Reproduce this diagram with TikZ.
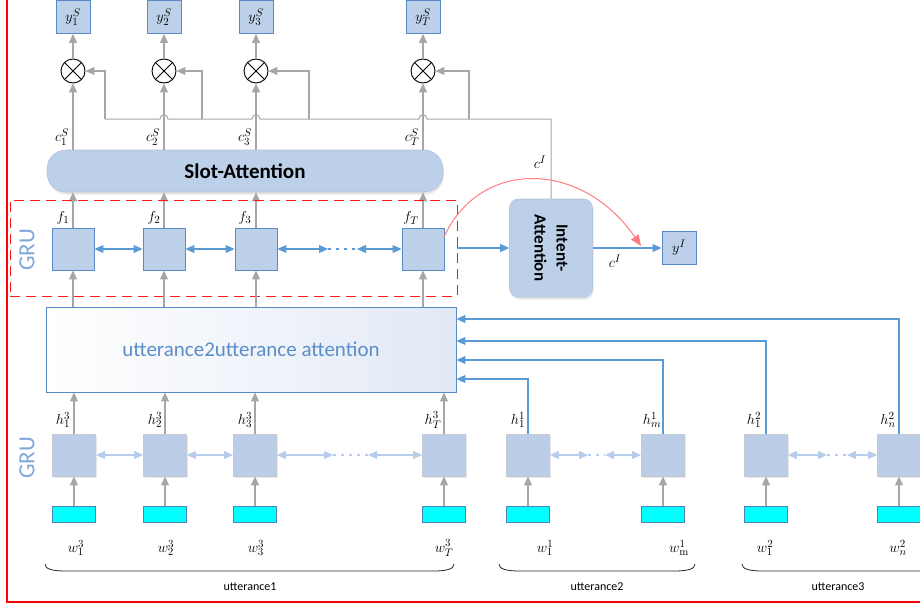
\documentclass[tikz,border=0pt]{standalone}
\usepackage{fontspec}
\setsansfont{Carlito}
\usetikzlibrary{arrows.meta,shadows,calc}

\definecolor{cellfill}{HTML}{BDD0E9}
\definecolor{cellline}{HTML}{5A8AC6}
\definecolor{lowfill}{HTML}{BCCEE7}
\definecolor{lowline}{HTML}{C3CAD4}
\definecolor{linkblue}{HTML}{5B9BD5}
\definecolor{paleblue}{HTML}{B7CDEB}
\definecolor{graylink}{HTML}{A6A6A6}
\definecolor{grutext}{HTML}{7EA6D6}
\definecolor{uutext}{HTML}{5B8DC8}
\definecolor{arcred}{HTML}{FF7C80}
\definecolor{embfill}{HTML}{00FFFF}
\definecolor{embline}{HTML}{4F81BD}
\definecolor{uushade}{HTML}{E2E9F5}

\tikzset{
  mlab/.style={font=\fontsize{15.5}{17}\selectfont, inner sep=0pt},
  outbox/.style={draw=cellline, line width=0.9pt, fill=cellfill, minimum width=34, minimum height=33, inner sep=0pt, font=\fontsize{15.5}{17}\selectfont},
  mult/.style={circle, draw=black, line width=0.9pt, minimum size=24, inner sep=0pt},
  cell/.style={draw=cellline, line width=0.9pt, fill=cellfill, minimum width=42, minimum height=42, inner sep=0pt},
  lcell/.style={draw=lowline, line width=0.8pt, fill=lowfill, minimum width=43, minimum height=42, inner sep=0pt,
    drop shadow={opacity=0.18, shadow xshift=1.5pt, shadow yshift=-2pt}},
  emb/.style={draw=embline, line width=0.9pt, fill=embfill, minimum width=43, minimum height=16, inner sep=0pt},
  slotbox/.style={fill=cellfill, draw=cellfill!85!gray, line width=0.6pt, rounded corners=19, minimum width=396, minimum height=42,
    font=\sffamily\bfseries\fontsize{21}{24}\selectfont, text=black,
    drop shadow={opacity=0.2, shadow xshift=1pt, shadow yshift=-2.5pt}},
  intentbox/.style={fill=cellfill, draw=cellfill!85!gray, line width=0.6pt, rounded corners=9, minimum width=83, minimum height=98,
    drop shadow={opacity=0.2, shadow xshift=1pt, shadow yshift=-2.5pt}},
  intenttext/.style={font=\sffamily\bfseries\fontsize{17}{22}\selectfont, align=center, inner sep=0pt},
  uubox/.style={draw=cellline, line width=0.9pt, left color=white, right color=uushade, minimum width=410, minimum height=85,
    font=\sffamily\fontsize{21}{24}\selectfont, text=uutext},
  dashbox/.style={draw=red!90, line width=0.9pt, dash pattern=on 10pt off 6pt, minimum width=447, minimum height=96, inner sep=0pt},
  grulab/.style={font=\sffamily\fontsize{23}{25}\selectfont, text=grutext},
  utlab/.style={font=\sffamily\fontsize{12}{14}\selectfont},
  garrow/.style={draw=graylink, line width=1.1pt, -{Triangle[length=9pt,width=8pt]}},
  gline/.style={draw=graylink, line width=1pt},
  barrow/.style={draw=linkblue, line width=1.1pt, -{Triangle[length=9pt,width=8pt]}},
  bidir/.style={draw=linkblue, line width=1.1pt, {Triangle[length=9pt,width=8pt]}-{Triangle[length=9pt,width=8pt]}},
  bdots/.style={draw=linkblue, line width=1.4pt, dash pattern=on 3pt off 5pt},
  pbidir/.style={draw=paleblue, line width=1.1pt, {Triangle[length=9pt,width=8pt]}-{Triangle[length=9pt,width=8pt]}},
  pdots/.style={draw=paleblue, line width=1.4pt, dash pattern=on 3pt off 5pt},
  brace/.style={draw=black!85, line width=0.8pt},
}

\begin{document}
\begin{tikzpicture}[x=1pt,y=-1pt]
\useasboundingbox (0,0) rectangle (920,605);

% outer frame
\draw[red, line width=2pt] (7,0) -- (7,602) -- (920,602);

% slot outputs, gating products and the upper GRU cells
\foreach \n/\x in {1/73,2/164,3/256,T/423}{
  \node[outbox] (y\n) at (\x,17) {$y_{\n}^{S}$};
  \node[mult] (m\n) at (\x,71) {};
  \draw[black, line width=0.9pt] (m\n.45) -- (m\n.225) (m\n.135) -- (m\n.315);
  \draw[garrow] (m\n) -- (y\n);
  \node[cell] (f\n) at (\x,249) {};
}

\node[slotbox] (slot) at (245,171) {Slot-Attention};

\foreach \n in {1,2,3,T}{
  \draw[garrow] (slot.north -| m\n) -- (m\n);
  \draw[garrow] (f\n) -- (f\n |- slot.south);
}

% context labels
\node[mlab] (cs1) at (62,137) {$c_1^S$};
\node[mlab] (cs2) at (153,137) {$c_2^S$};
\node[mlab] (cs3) at (245,137) {$c_3^S$};
\node[mlab] (csT) at (412,137) {$c_T^S$};
\node[mlab] (fl1) at (63,218) {$f_1$};
\node[mlab] (fl2) at (154,218) {$f_2$};
\node[mlab] (fl3) at (245,218) {$f_3$};
\node[mlab] (flT) at (411,218) {$f_T$};

% bidirectional links of the upper GRU
\coordinate (ud1) at (328,249);
\coordinate (ud2) at (357,249);
\draw[bidir] (f1) -- (f2);
\draw[bidir] (f2) -- (f3);
\draw[bidir] (f3) -- (ud1);
\draw[bdots] (ud1) -- (ud2);
\draw[bidir] (ud2) -- (fT);

% dashed GRU frame
\node[dashbox] (grubox) at (233.5,248) {};
\node[grulab, rotate=90] (gru1) at (27,250) {GRU};

% intent attention
\node[intentbox] (intent) at (551,248) {};
\node[intenttext, rotate=-90] (intentlab) at (intent) {Intent-\\Attention};
\node[outbox] (yI) at (679,248) {$y^I$};
\draw[barrow] (grubox.east) -- (intent);
\draw[barrow] (intent) -- (yI);
\node[mlab] (cI2) at (615,261) {$c^I$};
\node[mlab] (cI1) at (540,162) {$c^I$};

% intent context fed back to every product (with hops over the c lines)
\coordinate (busR) at (551,119);
\draw[gline] (intent.north) -- (busR) -- (427,119)
  .. controls (427,113.5) and (419,113.5) .. (419,119) -- (260,119)
  .. controls (260,113.5) and (252,113.5) .. (252,119) -- (168,119)
  .. controls (168,113.5) and (160,113.5) .. (160,119) -- (105,119);
\foreach \x/\n in {105/1,202/2,309/3,469/T}{
  \draw[garrow] (\x,119) |- (m\n);
}

% red curved link
\coordinate (arcS) at (444,237);
\coordinate (arcE) at (641,246);
\draw[draw=arcred, line width=1pt, -{Triangle[length=11pt,width=9pt]}] (arcS) .. controls (480,158) and (582,160) .. (arcE);

% utterance-to-utterance attention
\node[uubox] (uu) at (251,349.5) {utterance2utterance attention};
\foreach \n in {1,2,3,T}{
  \draw[garrow] (uu.north -| f\n) -- (f\n);
}

% lower GRU: utterance 1
\foreach \n/\x in {1/74,2/165,3/255,T/444}{
  \node[lcell] (a\n) at (\x,455) {};
  \node[emb] (ea\n) at (\x,514) {};
  \draw[garrow] (ea\n) -- (a\n);
  \draw[garrow] (a\n) -- (a\n |- uu.south);
}
% utterance 2 and 3
\foreach \n/\x in {b1/528,bm/663,c1/766,cn/899}{
  \node[lcell] (\n) at (\x,455) {};
  \node[emb] (e\n) at (\x,514) {};
  \draw[garrow] (e\n) -- (\n);
}

\node[grulab, rotate=90] (gru2) at (27,458) {GRU};

% lower bidirectional links
\coordinate (la1) at (333,455); \coordinate (la2) at (368,455);
\coordinate (lb1) at (588,455); \coordinate (lb2) at (605,455);
\coordinate (lc1) at (827,455); \coordinate (lc2) at (847,455);
\draw[pbidir] (a1) -- (a2);
\draw[pbidir] (a2) -- (a3);
\draw[pbidir] (a3) -- (la1);
\draw[pdots] (la1) -- (la2);
\draw[pbidir] (la2) -- (aT);
\draw[pbidir] (b1) -- (lb1);
\draw[pdots] (lb1) -- (lb2);
\draw[pbidir] (lb2) -- (bm);
\draw[pbidir] (c1) -- (lc1);
\draw[pdots] (lc1) -- (lc2);
\draw[pbidir] (lc2) -- (cn);

% hidden states of the other utterances into the attention box
\coordinate (in1) at (uu.east |- 0,319);
\coordinate (in2) at (uu.east |- 0,341);
\coordinate (in3) at (uu.east |- 0,360);
\coordinate (in4) at (uu.east |- 0,379);
\draw[barrow] (cn.north) |- (in1);
\draw[barrow] (c1.north) |- (in2);
\draw[barrow] (bm.north) |- (in3);
\draw[barrow] (b1.north) |- (in4);

% hidden state labels
\node[mlab] (h13) at (63,420) {$h_1^3$};
\node[mlab] (h23) at (155,420) {$h_2^3$};
\node[mlab] (h33) at (245,420) {$h_3^3$};
\node[mlab] (hT3) at (433,420) {$h_T^3$};
\node[mlab] (h11) at (518,420) {$h_1^1$};
\node[mlab] (hm1) at (652,420) {$h_m^1$};
\node[mlab] (h12) at (754,420) {$h_1^2$};
\node[mlab] (hn2) at (888,420) {$h_n^2$};

% word labels
\node[mlab] (w13) at (76,548) {$w_1^3$};
\node[mlab] (w23) at (166,548) {$w_2^3$};
\node[mlab] (w33) at (256,548) {$w_3^3$};
\node[mlab] (wT3) at (444,548) {$w_T^3$};
\node[mlab] (w11) at (545,548) {$w_1^1$};
\node[mlab] (wm1) at (679,548) {$w_{\mathrm{m}}^1$};
\node[mlab] (w12) at (765,548) {$w_1^2$};
\node[mlab] (wn2) at (898,548) {$w_n^2$};

% utterance brackets
\draw[brace] (45,564) .. controls (45,569) and (52,571) .. (66,571) -- (433,571) .. controls (447,571) and (454,569) .. (454,564);
\draw[brace] (499,564) .. controls (499,569) and (506,571) .. (520,571) -- (674,571) .. controls (688,571) and (695,569) .. (695,564);
\draw[brace] (742,564) .. controls (742,569) and (749,571) .. (763,571) -- (935,571);
\node[utlab] (ut1) at (250,587) {utterance1};
\node[utlab] (ut2) at (597,587) {utterance2};
\node[utlab] (ut3) at (838,587) {utterance3};
\end{tikzpicture}
\end{document}
